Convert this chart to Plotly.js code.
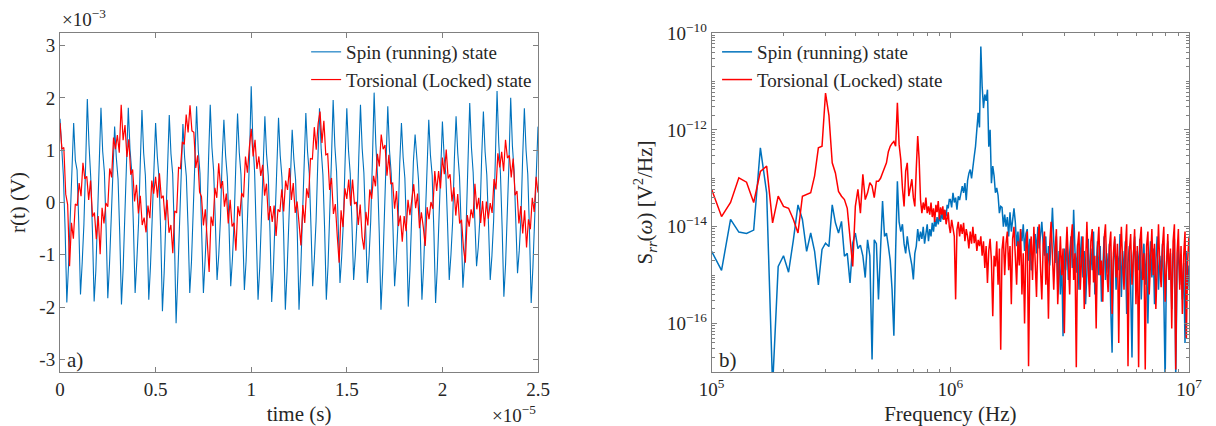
<!DOCTYPE html>
<html><head><meta charset="utf-8">
<script src="https://cdn.plot.ly/plotly-3.0.1.min.js"></script>
<style>html,body{margin:0;padding:0;background:#fff;}#chart{width:1216px;height:426px;}.modebar-container{display:none !important;}</style>
</head><body><div id="chart"></div>
<script>
// ---------- Panel a) : time traces (time in 1e-5 s, r in 1e-3 V) ----------
const timeTickVals = [0, 0.5, 1, 1.5, 2, 2.5];
const timeTickText = ['0', '0.5', '1', '1.5', '2', '2.5'];
const rTickVals = [-3, -2, -1, 0, 1, 2, 3];
const rTickText = ['-3', '-2', '-1', '0', '1', '2', '3'];

const spinTimeStep = 2.5 / 280;   // sampling step of the spin trace (x1e-5 s)
const torsTimeStep = 0.01;        // sampling step of the torsional trace (x1e-5 s)

const spinR = [
1.60,0.92,0.50,-0.52,-1.91,-1.20,-0.30,0.78,
1.52,0.80,0.62,-0.40,-1.76,-1.15,-0.42,0.70,
1.98,1.10,0.48,-0.55,-1.89,-1.30,-0.28,0.85,
1.81,0.98,0.58,-0.48,-1.83,-1.18,-0.36,0.74,
1.45,0.85,0.45,-0.60,-1.95,-1.25,-0.33,0.80,
1.81,1.02,0.60,-0.44,-1.73,-1.12,-0.40,0.72,
1.77,0.95,0.52,-0.50,-1.86,-1.22,-0.30,0.82,
1.52,0.88,0.47,-0.58,-2.08,-1.35,-0.38,0.76,
1.67,0.93,0.55,-0.62,-2.31,-1.40,-0.35,0.79,
1.50,0.86,0.50,-0.46,-1.73,-1.14,-0.32,0.77,
1.84,1.00,0.56,-0.42,-1.73,-1.10,-0.37,0.81,
1.87,1.05,0.60,-0.38,-1.48,-1.00,-0.30,0.84,
1.58,0.90,0.49,-0.45,-1.60,-1.08,-0.34,0.73,
1.70,0.96,0.54,-0.50,-1.67,-1.12,-0.29,0.86,
2.22,1.15,0.58,-0.52,-1.86,-1.24,-0.36,0.78,
1.65,0.92,0.51,-0.55,-1.90,-1.26,-0.33,0.75,
1.62,0.90,0.48,-0.60,-2.05,-1.32,-0.38,0.80,
1.39,0.82,0.44,-0.58,-2.05,-1.30,-0.31,0.83,
1.71,0.97,0.56,-0.45,-1.60,-1.06,-0.35,0.76,
1.80,1.01,0.53,-0.50,-1.86,-1.21,-0.30,0.82,
1.96,1.08,0.59,-0.42,-1.54,-1.03,-0.37,0.79,
1.80,0.99,0.55,-0.40,-1.48,-1.00,-0.33,0.85,
1.87,1.03,0.57,-0.44,-1.54,-1.05,-0.36,0.80,
2.10,1.12,0.50,-0.58,-2.05,-1.33,-0.32,0.77,
1.84,1.00,0.56,-0.45,-1.60,-1.08,-0.38,0.74,
1.52,0.86,0.47,-0.56,-1.99,-1.28,-0.30,0.78,
1.30,0.78,0.43,-0.52,-1.86,-1.22,-0.34,0.81,
1.58,0.90,0.52,-0.55,-1.92,-1.25,-0.31,0.76,
1.55,0.88,0.54,-0.40,-1.48,-1.00,-0.36,0.83,
1.65,0.94,0.50,-0.46,-1.63,-1.10,-0.33,0.80,
1.90,1.05,0.58,-0.35,-1.22,-0.85,-0.28,0.87,
1.74,0.97,0.53,-0.42,-1.48,-1.02,-0.35,0.82,
2.13,1.14,0.55,-0.50,-1.80,-1.18,-0.32,0.79,
2.00,1.08,0.60,-0.38,-1.35,-0.92,-0.30,0.85,
1.80,1.00,0.54,-0.55,-1.92,-1.24,-0.34,0.78,
1.45];

const torsR = [
1.52,1.02,1.05,0.16,-0.04,-1.22,-0.39,-0.69,-0.03,-0.06,
0.37,0.12,0.76,0.45,0.50,0.05,0.42,-0.27,-0.19,-0.70,
-0.26,-0.99,-0.10,-0.40,-0.01,-0.08,0.65,0.48,1.24,1.02,
1.29,0.95,1.87,1.19,1.48,0.87,1.21,0.53,0.63,0.02,
0.34,-0.21,0.13,-0.43,-0.29,-0.57,-0.06,-0.30,0.42,0.17,
0.49,0.09,0.56,0.08,0.13,-0.34,0.05,-0.58,-0.43,-0.97,
-0.16,-0.20,0.67,0.65,1.16,1.11,1.68,1.34,1.86,1.37,
1.34,0.66,0.90,0.20,0.11,-0.44,-0.13,-0.76,-1.33,-0.27,
-0.45,0.28,0.09,0.75,0.27,0.41,-0.08,0.17,-0.40,0.05,
-0.46,-0.39,-0.92,-0.07,-0.26,0.18,0.10,0.88,0.57,1.04,
1.41,0.88,1.20,0.64,0.88,0.51,0.72,0.13,0.36,-0.34,
-0.07,-0.37,-0.06,-0.64,-0.13,-0.18,0.25,-0.17,0.42,0.24,
0.66,0.05,0.37,-0.20,0.02,-0.39,-0.82,-0.05,-0.39,0.27,
0.09,0.84,0.83,1.44,1.01,1.51,1.74,1.14,1.56,0.91,
0.93,0.24,0.47,-0.22,-0.03,-0.64,-1.15,-0.15,-0.47,0.27,
0.07,0.44,-0.06,0.44,-0.03,0.01,-0.43,-0.04,-0.66,-0.90,
-0.18,-0.44,0.25,0.07,0.51,0.31,0.93,0.69,1.30,1.02,
1.10,0.51,0.91,0.36,0.37,-0.12,0.22,-0.45,-0.25,-0.75,
-0.26,-0.55,0.05,-0.24,0.10,0.35,-0.11,0.17,-0.49,-0.19,
-0.47,-0.83,-0.09,-0.32,0.01,-0.12,0.60,0.22,0.60,0.27,
0.86,0.54,1.01,0.46,0.54,0.02,0.29,-0.25,0.16,-0.40,
-0.33,-0.87,-1.15,-0.24,-0.46,-0.13,-0.30,0.36,-0.13,0.09,
-0.39,0.03,-0.46,0.02,-0.31,-0.01,-0.20,0.45,0.25,0.94,
0.67,0.97,0.60,1.20,0.85,0.90,0.48,0.84,0.14,0.22,
-0.40,-0.07,-0.59,-0.15,-0.86,-0.32,-0.51,0.09,-0.18,0.49,
0.19];

// ---------- Panel b) : spectra, log10 of S_rr in V^2/Hz ----------
const freqLowStart = 1e5, freqLowStep = 1e4, freqLowCount = 90;   // 100 kHz .. 990 kHz
const freqHighPerDecade = 180, freqHighCount = 181;              // 1 MHz .. 10 MHz, log-spaced

const spinLowLog = [
-14.51,-14.90,-13.85,-14.11,-14.14,-14.07,-12.37,-13.30,-17.30,-14.82,
-14.60,-14.94,-14.27,-13.55,-13.85,-14.51,-14.13,-14.51,-15.20,-14.47,
-14.34,-14.41,-13.55,-13.92,-14.13,-13.89,-14.61,-14.55,-15.16,-14.34,
-14.13,-14.45,-14.38,-14.60,-15.05,-14.27,-14.60,-16.74,-14.27,-14.35,
-15.50,-14.45,-13.47,-14.20,-14.13,-14.40,-14.70,-15.30,-16.25,-14.50,
-13.06,-13.90,-14.10,-13.95,-14.35,-14.55,-14.20,-14.45,-14.61,-14.80,
-15.09,-14.55,-14.40,-14.05,-14.30,-14.10,-14.25,-14.00,-14.35,-14.15,
-13.95,-14.30,-14.05,-14.20,-13.92,-14.10,-13.85,-14.00,-13.80,-13.95,
-13.75,-13.90,-13.70,-13.85,-13.65,-13.72,-13.79,-13.55,-13.62,-13.44];

const torsLowLog = [
-13.23,-13.79,-13.50,-12.99,-13.08,-13.50,-12.86,-12.75,-13.92,-13.37,
-13.58,-13.62,-13.85,-14.13,-13.37,-13.33,-13.30,-12.95,-12.37,-12.34,
-11.24,-11.70,-12.68,-12.89,-13.27,-13.37,-13.44,-13.62,-14.20,-14.82,
-13.58,-13.23,-13.72,-12.92,-13.44,-13.30,-13.09,-13.16,-13.40,-13.06,
-13.06,-13.00,-12.89,-12.80,-12.68,-12.45,-12.34,-12.28,-12.24,-12.34,
-11.44,-12.30,-12.61,-13.20,-13.58,-12.85,-12.68,-13.37,-13.20,-13.02,
-13.40,-13.58,-12.80,-12.13,-12.60,-13.44,-13.72,-13.50,-13.65,-13.40,
-13.72,-13.58,-13.75,-13.50,-13.80,-13.62,-13.90,-13.55,-13.70,-13.47,
-13.85,-13.60,-13.75,-13.58,-13.86,-13.65,-13.95,-13.80,-13.70,-14.00];

const spinHighLog = [
-13.44,-13.60,-13.30,-13.50,-13.40,-13.65,-13.37,-13.45,-13.25,-13.16,
-13.30,-13.10,-13.45,-13.05,-12.90,-12.82,-13.00,-12.70,-12.55,-12.34,
-12.00,-11.65,-11.95,-10.28,-11.10,-11.55,-11.27,-11.40,-11.17,-12.35,
-12.00,-13.10,-12.75,-12.95,-13.30,-13.20,-13.35,-13.72,-13.58,-13.60,
-14.00,-13.75,-14.00,-13.80,-14.20,-13.70,-14.10,-13.90,-13.62,-13.90,
-14.40,-14.10,-14.60,-14.05,-14.30,-13.95,-14.50,-14.15,-14.05,-14.70,
-14.25,-14.90,-14.70,-14.30,-14.15,-14.55,-14.00,-14.45,-14.10,-13.90,
-14.35,-14.60,-14.20,-15.10,-14.40,-14.80,-14.25,-13.61,-14.30,-14.75,
-14.20,-15.20,-14.50,-15.40,-14.60,-16.26,-14.45,-14.90,-14.30,-15.10,
-14.55,-14.20,-14.85,-13.65,-14.50,-14.95,-14.35,-15.30,-14.60,-14.20,
-15.05,-14.50,-15.60,-14.70,-14.25,-15.20,-14.45,-14.90,-14.10,-15.40,
-14.65,-14.30,-15.00,-14.40,-15.55,-14.80,-14.20,-15.10,-14.55,-14.95,
-14.35,-15.70,-16.60,-14.70,-14.25,-15.30,-14.60,-14.90,-14.15,-15.45,
-14.50,-15.00,-14.30,-15.80,-14.75,-14.40,-15.25,-16.70,-14.60,-14.20,
-15.10,-14.50,-14.90,-14.25,-15.50,-14.70,-14.35,-15.20,-14.55,-16.00,
-14.80,-14.30,-15.05,-14.45,-15.60,-14.70,-14.20,-15.30,-14.60,-15.00,
-14.35,-15.40,-17.20,-14.80,-14.30,-15.10,-14.55,-15.70,-14.65,-14.25,
-17.10,-14.90,-14.40,-15.20,-14.60,-15.50,-14.75,-16.40,-14.50,-15.30,-14.80];

const torsHighLog = [
-14.13,-13.86,-14.05,-14.20,-15.50,-14.06,-13.90,-14.20,-13.95,-14.15,
-13.92,-14.30,-14.05,-14.20,-14.45,-14.10,-14.35,-14.00,-14.34,-14.15,
-14.50,-14.27,-14.40,-14.20,-14.60,-14.30,-14.85,-14.40,-15.16,-14.50,
-14.25,-14.70,-15.85,-14.60,-14.82,-14.30,-15.20,-14.45,-16.54,-14.47,
-14.20,-15.00,-14.35,-14.10,-14.90,-14.40,-15.60,-14.25,-14.00,-14.70,
-15.20,-14.30,-14.80,-14.05,-15.40,-14.55,-16.00,-14.40,-14.10,-16.88,
-14.60,-14.20,-15.10,-14.00,-14.75,-15.45,-14.30,-13.95,-14.85,-15.50,
-14.40,-14.10,-15.20,-14.55,-15.90,-14.35,-13.90,-14.80,-15.30,-14.50,
-14.05,-15.60,-14.70,-14.20,-15.00,-14.45,-16.20,-14.60,-14.00,-14.95,
-15.40,-14.30,-13.95,-15.10,-14.55,-16.90,-14.40,-14.10,-15.30,-14.65,
-14.20,-15.70,-14.50,-13.90,-14.85,-15.45,-14.30,-14.05,-15.15,-14.60,
-16.10,-14.45,-14.00,-15.00,-14.70,-15.55,-14.25,-13.95,-14.90,-15.35,
-14.40,-14.10,-15.80,-14.55,-14.20,-15.05,-14.35,-16.40,-14.60,-14.00,
-14.80,-15.30,-14.45,-13.95,-16.88,-14.50,-14.15,-15.20,-14.65,-14.05,
-15.60,-14.40,-16.90,-14.30,-14.00,-15.10,-14.55,-16.95,-14.40,-14.10,
-15.40,-14.70,-14.05,-15.00,-14.35,-15.70,-14.50,-13.95,-14.85,-15.25,
-14.40,-14.00,-15.55,-14.60,-14.15,-15.10,-14.45,-16.10,-14.30,-13.95,
-16.95,-14.55,-14.05,-15.30,-14.40,-15.80,-14.60,-14.10,-16.30,-14.70,-14.20];

const seriesNames = ['Spin (running) state', 'Torsional (Locked) state'];
const seriesColors = ['#0072BD', '#FF0000'];

// ---------- build sample axes ----------
const spinT = spinR.map((_, i) => i * spinTimeStep);
const torsT = torsR.map((_, i) => i * torsTimeStep);
const freqLow = Array.from({length: freqLowCount}, (_, i) => freqLowStart + i * freqLowStep);
const freqHigh = Array.from({length: freqHighCount}, (_, j) => Math.pow(10, 6 + j / freqHighPerDecade));
const freqAll = freqLow.concat(freqHigh);
const toLin = a => a.map(v => Math.pow(10, v));
const spinS = toLin(spinLowLog.concat(spinHighLog));
const torsS = toLin(torsLowLog.concat(torsHighLog));

const SERIF = 'Times New Roman';
const TXT = '#262626';

const traces = [
  {x: spinT, y: spinR, xaxis: 'x', yaxis: 'y', type: 'scatter', mode: 'lines', name: seriesNames[0],
   line: {color: seriesColors[0], width: 1.1}, legend: 'legend'},
  {x: torsT, y: torsR, xaxis: 'x', yaxis: 'y', type: 'scatter', mode: 'lines', name: seriesNames[1],
   line: {color: seriesColors[1], width: 1.2}, legend: 'legend'},
  {x: freqAll, y: spinS, xaxis: 'x2', yaxis: 'y2', type: 'scatter', mode: 'lines', name: seriesNames[0],
   line: {color: seriesColors[0], width: 1.5}, legend: 'legend2'},
  {x: freqAll, y: torsS, xaxis: 'x2', yaxis: 'y2', type: 'scatter', mode: 'lines', name: seriesNames[1],
   line: {color: seriesColors[1], width: 1.5}, legend: 'legend2'}
];

// minor tick positions for log axes
const minorX = [];
for (let d = 5; d < 7; d++) for (let m = 2; m <= 9; m++) minorX.push(m * Math.pow(10, d));
const minorY = [];
for (let d = -17; d < -10; d++) for (let m = 2; m <= 9; m++) minorY.push(m * Math.pow(10, d));
const yMajorVals = [1e-16, 1e-14, 1e-12, 1e-10];
const yMajorText = ['10<sup>−16</sup>', '10<sup>−14</sup>', '10<sup>−12</sup>', '10<sup>−10</sup>'];
minorY.push(1e-17, 1e-15, 1e-13, 1e-11);

const axisBase = {
  showline: true, linecolor: '#808080', linewidth: 1, mirror: 'ticks',
  ticks: 'inside', ticklen: 5, tickwidth: 1, tickcolor: '#808080',
  showgrid: false, zeroline: false,
  tickfont: {family: SERIF, size: 19, color: TXT}
};

const layout = {
  width: 1216, height: 426,
  margin: {l: 60, r: 27, t: 33, b: 54},
  paper_bgcolor: '#ffffff', plot_bgcolor: '#ffffff',
  xaxis: Object.assign({}, axisBase, {
    domain: [0, 0.4234], range: [0, 2.5], anchor: 'y',
    tickmode: 'array', tickvals: timeTickVals, ticktext: timeTickText,
    title: {text: 'time (s)', font: {family: SERIF, size: 21, color: TXT}, standoff: 8}
  }),
  yaxis: Object.assign({}, axisBase, {
    domain: [0, 1], range: [-3.24, 3.24], anchor: 'x',
    tickmode: 'array', tickvals: rTickVals, ticktext: rTickText,
    title: {text: 'r(t) (V)', font: {family: SERIF, size: 21, color: TXT}, standoff: 8}
  }),
  xaxis2: Object.assign({}, axisBase, {
    domain: [0.5772, 1], type: 'log', range: [5, 7], anchor: 'y2',
    tickmode: 'array', tickvals: [1e5, 1e6, 1e7],
    ticktext: ['10<sup>5</sup>', '10<sup>6</sup>', '10<sup>7</sup>'],
    minor: {tickmode: 'array', tickvals: minorX, ticks: 'inside', ticklen: 3, tickcolor: '#808080'},
    title: {text: 'Frequency (Hz)', font: {family: SERIF, size: 21, color: TXT}, standoff: 8}
  }),
  yaxis2: Object.assign({}, axisBase, {
    domain: [0, 1], type: 'log', range: [-17, -10], anchor: 'x2',
    tickmode: 'array', tickvals: yMajorVals, ticktext: yMajorText,
    minor: {tickmode: 'array', tickvals: minorY, ticks: 'inside', ticklen: 3, tickcolor: '#808080'},
    title: {text: 'S<sub><i>rr</i></sub>(<i>ω</i>) [V<sup>2</sup>/Hz]', font: {family: SERIF, size: 21, color: TXT}, standoff: 8}
  }),
  legend: {x: 0.218, y: 1, xanchor: 'left', yanchor: 'top', bgcolor: 'rgba(0,0,0,0)',
           font: {family: SERIF, size: 19, color: TXT}, itemwidth: 30, tracegroupgap: 0},
  legend2: {x: 0.582, y: 1, xanchor: 'left', yanchor: 'top', bgcolor: 'rgba(0,0,0,0)',
            font: {family: SERIF, size: 19, color: TXT}, itemwidth: 30, tracegroupgap: 0},
  annotations: [
    {xref: 'paper', yref: 'paper', x: 0, y: 1, xanchor: 'left', yanchor: 'bottom', yshift: 1,
     text: '×10<sup>−3</sup>', showarrow: false, font: {family: SERIF, size: 19, color: TXT}},
    {xref: 'paper', yref: 'paper', x: 0.4234, y: 0, xanchor: 'right', yanchor: 'top', yshift: -28,
     text: '×10<sup>−5</sup>', showarrow: false, font: {family: SERIF, size: 19, color: TXT}},
    {xref: 'paper', yref: 'paper', x: 0.004, y: 0.035, xanchor: 'left', yanchor: 'middle',
     text: 'a)', showarrow: false, font: {family: SERIF, size: 21, color: TXT}},
    {xref: 'paper', yref: 'paper', x: 0.582, y: 0.035, xanchor: 'left', yanchor: 'middle',
     text: 'b)', showarrow: false, font: {family: SERIF, size: 21, color: TXT}}
  ]
};

Plotly.newPlot('chart', traces, layout);
</script></body></html>
